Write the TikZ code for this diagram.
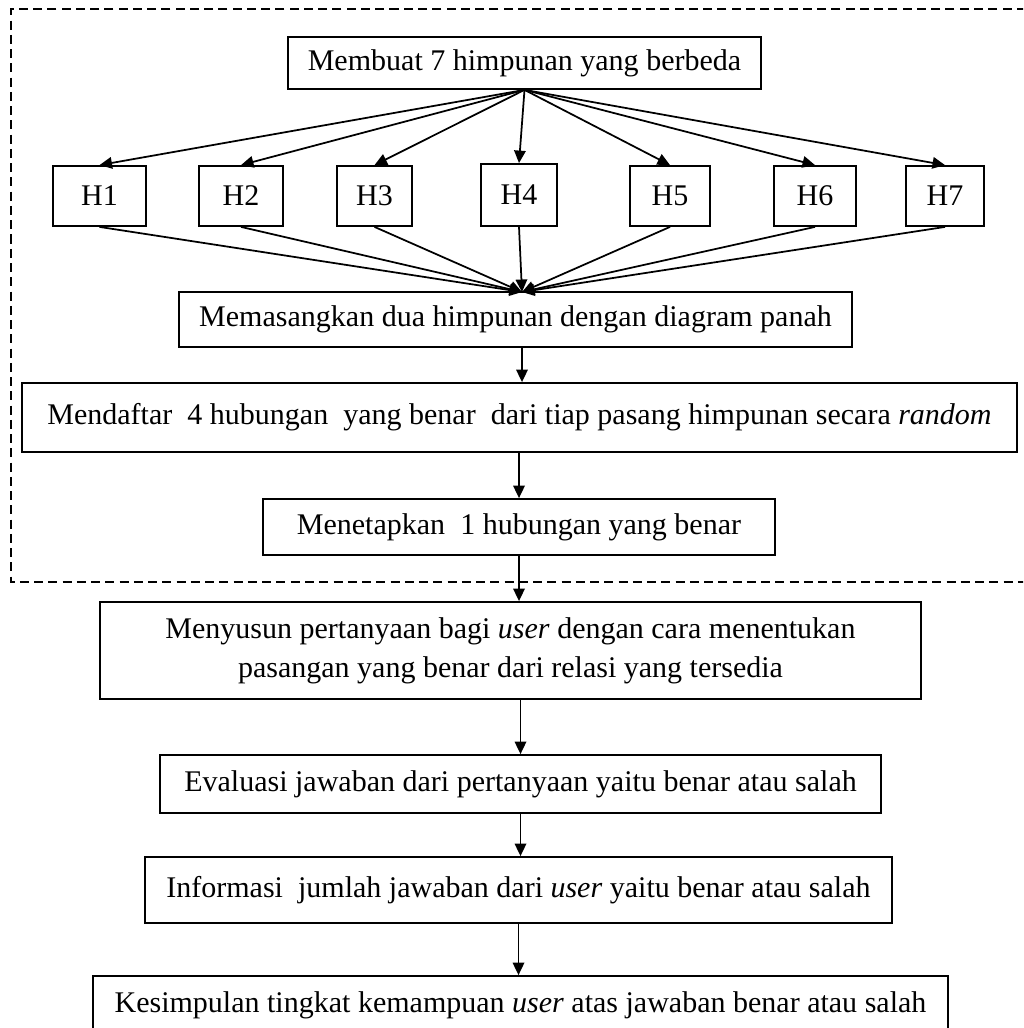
\documentclass[tikz,border=0pt]{standalone}
\usepackage{fontspec}
\setmainfont{Liberation Serif}
\usetikzlibrary{arrows.meta}

\tikzset{
  kotak/.style={draw, line width=0.7pt, inner sep=0pt, align=center},
  panah/.style={-{Triangle[length=5pt,width=4.6pt]}, line width=0.7pt},
}

\begin{document}
\begin{tikzpicture}[x=0.01406cm, y=-0.01406cm, font=\fontsize{12pt}{15.6pt}\selectfont]
\clip (0,0) rectangle (1023,1028);
\fill[white] (0,0) rectangle (1023,1028);

% batas putus-putus
\draw[line width=0.8pt, dash pattern=on 3.6pt off 2.1pt] (1040,9) -- (11,9) -- (11,582) -- (1040,582);

\node[kotak, minimum width=6.65cm, minimum height=0.731cm] (buat) at (524.5,63) {Membuat 7 himpunan yang berbeda};

\foreach \i/\x/\w in {1/99.5/1.308, 2/241/1.181, 3/374.5/1.055, 5/670/1.125, 6/815/1.153, 7/945/1.097} {
	\node[kotak, minimum width=\w cm, minimum height=0.844cm] (h\i) at (\x,196) {H\i};
}
\node[kotak, minimum width=1.069cm, minimum height=0.872cm] (h4) at (519,195) {H4};

\node[kotak, minimum width=9.462cm, minimum height=0.773cm] (pasang) at (515.5,319.5) {Memasangkan dua himpunan dengan diagram panah};
\coordinate (temu) at (522,292);

\node[kotak, minimum width=13.99cm, minimum height=0.97cm] (daftar) at (519.5,417.5) {Mendaftar\ \ 4 hubungan\ \ yang benar\ \ dari tiap pasang himpunan secara \textit{random}};
\node[kotak, minimum width=7.199cm, minimum height=0.787cm] (tetap) at (519,527) {Menetapkan\ \ 1 hubungan yang benar};

\node[kotak, minimum width=11.543cm, minimum height=1.364cm] (susun) at (510.5,650.5) {Menyusun pertanyaan bagi \textit{user} dengan cara menentukan\\ pasangan yang benar dari relasi yang tersedia};
\node[kotak, minimum width=10.137cm, minimum height=0.815cm] (evaluasi) at (520.5,784) {Evaluasi jawaban dari pertanyaan yaitu benar atau salah};
\node[kotak, minimum width=10.503cm, minimum height=0.928cm] (info) at (518.5,890) {Informasi\ \ jumlah jawaban dari \textit{user} yaitu benar atau salah};
\node[kotak, minimum width=12.021cm, minimum height=0.815cm] (simpul) at (520.5,1005) {Kesimpulan tingkat kemampuan \textit{user} atas jawaban benar atau salah};

\foreach \i in {1,...,7} {
	\draw[panah] (buat.south) -- (h\i.north);
	\draw[panah] (h\i.south) -- (temu);
}

\draw[panah] (pasang.south -| temu) -- (daftar.north -| temu);
\draw[panah] (daftar.south -| tetap) -- (tetap.north);
\draw[panah] (tetap.south) -- (tetap.south |- susun.north);
\draw[panah] (susun.south -| evaluasi) -- (evaluasi.north);
\draw[panah] (evaluasi.south) -- (evaluasi.south |- info.north);
\draw[panah] (info.south) -- (info.south |- simpul.north);

\end{tikzpicture}
\end{document}
